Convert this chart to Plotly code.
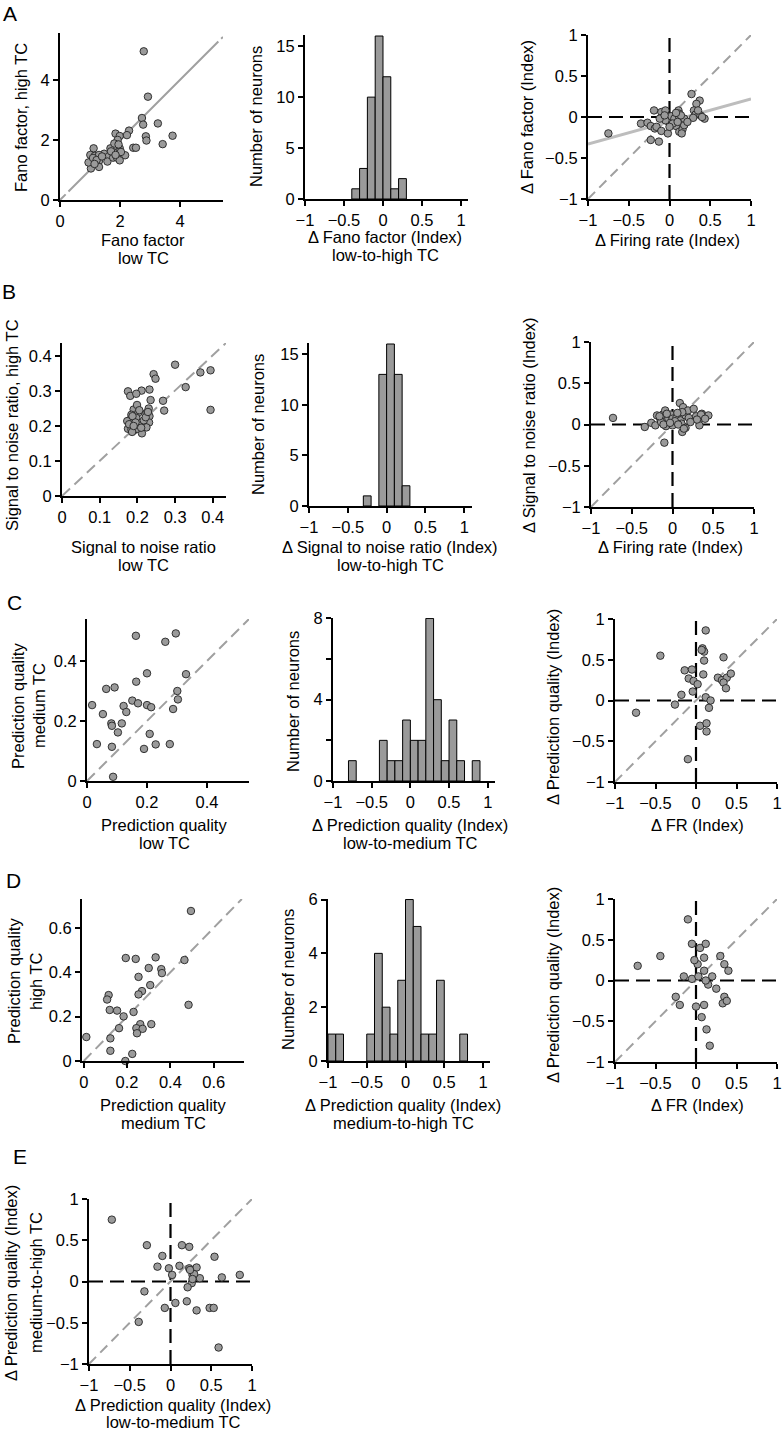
import plotly.graph_objects as go

W, H = 782, 1434
FONT = "Liberation Sans, Arial, sans-serif"

# ---------------- DATA ----------------
# A1: Fano factor low TC vs high TC
fano_low = [2.79, 2.93, 2.73, 2.77, 3.26, 2.30, 2.86, 2.88, 3.75, 3.42, 2.44, 2.53, 1.85, 1.99, 2.23,
            2.17, 1.92, 1.68, 1.81, 1.99, 1.94, 1.79, 1.47, 1.63, 1.58, 1.77, 1.90, 1.99, 2.03, 1.12,
            1.01, 1.16, 1.30, 1.30, 1.05, 1.03, 1.30, 0.95, 1.10, 1.22, 1.40, 1.70, 1.85, 1.95, 1.15]
fano_high = [4.95, 3.44, 2.73, 2.51, 2.55, 2.31, 2.12, 1.98, 2.14, 1.86, 1.74, 1.74, 2.21, 2.13, 2.16,
             1.49, 2.00, 1.72, 1.88, 1.72, 1.60, 1.58, 1.54, 1.46, 1.28, 1.41, 1.41, 1.32, 1.60, 1.72,
             1.50, 1.47, 1.50, 1.30, 1.28, 1.05, 1.10, 1.25, 1.40, 1.33, 1.45, 1.62, 1.50, 1.85, 1.20]
# A2: histogram of delta Fano factor index
fano_idx_bin_left = [-0.4, -0.3, -0.2, -0.1, 0.0, 0.1, 0.2]
fano_idx_counts = [1, 3, 10, 16, 12, 1, 2]
# A3: delta firing rate vs delta Fano
frA = [-0.75, -0.35, -0.27, -0.23, -0.19, -0.23, -0.13, -0.18, -0.16, -0.10, -0.09, -0.05, -0.10, -0.02, -0.01,
       0.02, 0.06, 0.11, 0.12, 0.12, 0.08, 0.12, 0.16, 0.18, 0.18, 0.27, 0.37, 0.33, 0.30, 0.32,
       0.29, 0.38, 0.43, 0.40, -0.05, 0.04, 0.10, -0.12, 0.14, 0.22, 0.08, -0.06, 0.00, 0.15, 0.35]
fano_idx = [-0.20, -0.08, -0.07, -0.11, 0.08, -0.28, -0.30, -0.14, -0.12, 0.06, -0.01, 0.08, -0.17, -0.20, -0.06,
            0.01, -0.02, 0.08, 0.04, 0.00, -0.11, -0.18, -0.15, -0.10, -0.02, 0.28, 0.20, 0.16, 0.08, 0.03,
            -0.01, 0.02, -0.02, 0.00, -0.04, -0.08, -0.06, -0.02, 0.02, -0.06, 0.05, 0.02, -0.12, -0.20, 0.08]
fano_fit_slope = 0.275
fano_fit_intercept = -0.055

# B1: SNR low vs high
snr_low = [0.300, 0.243, 0.248, 0.367, 0.394, 0.328, 0.394, 0.268, 0.271, 0.235, 0.232, 0.211, 0.175, 0.181, 0.197,
           0.190, 0.202, 0.224, 0.230, 0.232, 0.231, 0.215, 0.212, 0.197, 0.184, 0.180, 0.173, 0.175, 0.184, 0.193,
           0.190, 0.206, 0.199, 0.186, 0.217, 0.224, 0.199, 0.205, 0.187, 0.222, 0.178, 0.195, 0.210, 0.228, 0.190]
snr_high = [0.375, 0.348, 0.335, 0.353, 0.359, 0.311, 0.246, 0.272, 0.244, 0.274, 0.304, 0.301, 0.299, 0.286, 0.292,
            0.247, 0.237, 0.237, 0.250, 0.228, 0.210, 0.205, 0.179, 0.223, 0.232, 0.217, 0.214, 0.192, 0.190, 0.203,
            0.187, 0.201, 0.192, 0.183, 0.216, 0.196, 0.260, 0.245, 0.228, 0.225, 0.205, 0.210, 0.195, 0.240, 0.200]
# B2: histogram delta SNR index
snr_idx_bin_left = [-0.3, -0.1, 0.0, 0.1, 0.2]
snr_idx_counts = [1, 13, 16, 13, 2]
# B3: delta FR vs delta SNR
frB = [-0.73, -0.34, -0.26, -0.21, -0.19, -0.15, -0.12, -0.09, -0.14, -0.08, -0.10, -0.05, -0.02, 0.00, 0.00,
       0.05, 0.09, 0.13, 0.10, 0.11, 0.12, 0.16, 0.16, 0.19, 0.26, 0.29, 0.32, 0.33, 0.36, 0.39,
       0.44, -0.07, 0.03, 0.20, 0.12, -0.11, 0.07, 0.35, 0.30, -0.16, 0.14, 0.40, -0.03, 0.22, 0.06]
snr_idx = [0.08, -0.03, 0.02, -0.01, 0.11, 0.07, 0.12, 0.17, 0.03, -0.02, -0.22, 0.07, 0.12, 0.07, -0.01,
           0.09, 0.26, 0.21, 0.05, 0.01, -0.09, -0.04, 0.11, 0.17, 0.19, 0.10, 0.05, -0.01, 0.13, 0.09,
           0.11, 0.13, 0.04, 0.08, 0.15, 0.00, 0.00, 0.12, 0.06, 0.10, -0.05, 0.07, 0.02, 0.03, 0.14]

# C1: prediction quality low vs medium TC
pq_low = [0.163, 0.261, 0.296, 0.200, 0.330, 0.164, 0.064, 0.092, 0.151, 0.170, 0.200, 0.214, 0.122, 0.131, 0.017,
          0.053, 0.081, 0.083, 0.116, 0.103, 0.033, 0.083, 0.087, 0.209, 0.190, 0.229, 0.276, 0.301, 0.303, 0.287]
pq_med = [0.484, 0.464, 0.492, 0.359, 0.356, 0.331, 0.307, 0.312, 0.268, 0.259, 0.253, 0.246, 0.250, 0.230, 0.253,
          0.223, 0.192, 0.184, 0.192, 0.162, 0.123, 0.114, 0.014, 0.157, 0.107, 0.122, 0.123, 0.300, 0.272, 0.240]
# C2: histogram delta PQ low-to-medium
pq_lm_bin_left = [-0.8, -0.4, -0.3, -0.2, -0.1, 0.0, 0.1, 0.2, 0.3, 0.4, 0.5, 0.6, 0.8]
pq_lm_counts = [1, 2, 1, 1, 3, 2, 2, 8, 4, 1, 3, 1, 1]
# C3: delta FR vs delta PQ (low-to-medium)
frC = [0.12, 0.08, 0.10, 0.10, -0.44, 0.34, 0.09, -0.14, -0.05, -0.09, -0.03, 0.02, -0.04, -0.18, -0.26,
       -0.74, 0.27, 0.32, 0.38, 0.43, 0.34, 0.37, 0.12, 0.18, 0.16, 0.05, 0.13, 0.13, -0.10, 0.07]
pq_lm_idx = [0.86, 0.64, 0.60, 0.49, 0.55, 0.53, 0.32, 0.37, 0.38, 0.27, 0.24, 0.20, 0.11, 0.07, -0.05,
             -0.15, 0.28, 0.25, 0.28, 0.33, 0.22, 0.15, 0.04, 0.00, -0.09, -0.31, -0.28, -0.38, -0.72, 0.62]

# D1: prediction quality medium vs high TC
pq_med_d = [0.495, 0.465, 0.484, 0.194, 0.240, 0.332, 0.300, 0.358, 0.361, 0.253, 0.307, 0.269, 0.253, 0.115, 0.108,
            0.120, 0.154, 0.184, 0.230, 0.163, 0.123, 0.123, 0.012, 0.261, 0.312, 0.243, 0.272, 0.246, 0.224, 0.192]
pq_high = [0.676, 0.455, 0.253, 0.464, 0.460, 0.467, 0.419, 0.414, 0.396, 0.379, 0.342, 0.315, 0.300, 0.297, 0.277,
           0.230, 0.227, 0.201, 0.221, 0.148, 0.102, 0.046, 0.108, 0.166, 0.166, 0.148, 0.145, 0.125, 0.032, 0.000]
# D2: histogram delta PQ medium-to-high
pq_mh_bin_left = [-1.0, -0.9, -0.5, -0.4, -0.3, -0.2, -0.1, 0.0, 0.1, 0.2, 0.3, 0.4, 0.7]
pq_mh_counts = [1, 1, 1, 4, 2, 1, 3, 6, 5, 1, 1, 3, 1]
# D3: delta FR vs delta PQ (medium-to-high)
frD = [-0.72, -0.44, -0.10, -0.05, 0.05, 0.12, 0.10, -0.15, -0.05, 0.02, 0.10, 0.30, 0.35, 0.40, 0.20,
       0.15, 0.25, 0.35, 0.33, -0.25, -0.20, 0.00, 0.07, 0.13, 0.17, 0.10, 0.03, 0.38, 0.12, -0.02]
pq_mh_idx = [0.18, 0.30, 0.75, 0.45, 0.40, 0.45, 0.28, 0.05, 0.02, 0.20, 0.12, 0.30, 0.20, 0.12, 0.05,
             -0.05, -0.10, -0.20, -0.28, -0.20, -0.30, -0.32, -0.45, -0.60, -0.80, -0.30, 0.05, -0.25, 0.00, 0.25]

# E: delta PQ low-to-medium vs medium-to-high
e_lm = [-0.72, -0.29, 0.14, 0.23, -0.10, 0.54, -0.16, -0.02, 0.11, 0.23, 0.32, 0.02, 0.27, 0.36, 0.63,
        0.85, 0.26, 0.21, -0.32, 0.06, 0.20, -0.07, 0.32, 0.48, 0.53, -0.39, 0.59, 0.29, 0.27, 0.24]
e_mh = [0.75, 0.44, 0.44, 0.42, 0.31, 0.30, 0.18, 0.16, 0.19, 0.16, 0.17, 0.08, 0.08, 0.04, 0.05,
        0.08, -0.02, -0.07, -0.12, -0.26, -0.24, -0.32, -0.35, -0.32, -0.32, -0.49, -0.80, 0.09, 0.03, 0.14]

# ---------------- LAYOUT HELPERS ----------------
PT_FILL = "#9a9a9a"
BAR_FILL = "#9a9a9a"
DIAG = "#a0a0a0"
TICK_SIZE = 16.5
TITLE_SIZE = 16.5

fig = go.Figure()
layout = dict(width=W, height=H, margin=dict(l=0, r=0, t=0, b=0, autoexpand=False),
              paper_bgcolor="white", plot_bgcolor="white", showlegend=False,
              font=dict(family=FONT, color="black", size=TITLE_SIZE))
shapes = []
annotations = []


def ax_common():
    return dict(showline=True, linecolor="black", linewidth=2, ticks="outside", ticklen=5,
                tickwidth=2, tickcolor="black", showgrid=False, zeroline=False, automargin=False,
                tickfont=dict(family=FONT, size=TICK_SIZE, color="black"), fixedrange=True)


def fmt(v):
    s = ("%g" % v)
    return s.replace("-", "\u2212")


def add_axes(n, box, xr, yr, xt, yt, ytext=None):
    l, t, r, b = box
    xa = ax_common()
    xa.update(domain=[l / W, r / W], range=xr, tickvals=xt, ticktext=[fmt(v) for v in xt],
              anchor="y" if n == 1 else "y%d" % n)
    ya = ax_common()
    ya.update(domain=[1 - b / H, 1 - t / H], range=yr, tickvals=yt,
              ticktext=ytext if ytext is not None else [fmt(v) for v in yt],
              anchor="x" if n == 1 else "x%d" % n)
    layout["xaxis" if n == 1 else "xaxis%d" % n] = xa
    layout["yaxis" if n == 1 else "yaxis%d" % n] = ya


def refs(n):
    return ("x" if n == 1 else "x%d" % n), ("y" if n == 1 else "y%d" % n)


def scatter(n, xs, ys):
    xr, yr = refs(n)
    fig.add_trace(go.Scatter(x=xs, y=ys, mode="markers", xaxis=xr, yaxis=yr, cliponaxis=False,
                             marker=dict(size=7.5, color=PT_FILL, line=dict(color="#222222", width=0.9)),
                             hoverinfo="skip"))


def hist(n, lefts, counts, width=0.1):
    xr, yr = refs(n)
    fig.add_trace(go.Bar(x=[v + width / 2 for v in lefts], y=counts, width=width, xaxis=xr, yaxis=yr,
                         marker=dict(color=BAR_FILL, line=dict(color="black", width=1)), hoverinfo="skip"))


def line(n, x0, y0, x1, y1, color, width, dash):
    xr, yr = refs(n)
    shapes.append(dict(type="line", xref=xr, yref=yr, x0=x0, y0=y0, x1=x1, y1=y1, layer="below",
                       line=dict(color=color, width=width, dash=dash)))


def text(x, y, s, size=TITLE_SIZE, angle=0):
    annotations.append(dict(x=x / W, y=1 - y / H, xref="paper", yref="paper", text=s, showarrow=False,
                            xanchor="center", yanchor="middle", textangle=angle,
                            font=dict(family=FONT, size=size, color="black")))


def cross(n):
    line(n, -1, 0, 1, 0, "black", 2.2, "14px,7px")
    line(n, 0, -1, 0, 1, "black", 2.2, "14px,7px")
    line(n, -1, -1, 1, 1, DIAG, 2, "10px,6px")


idx_ticks = [-1, -0.5, 0, 0.5, 1]

# ---- Row A ----
A1r = [0, 5.43]
A1ry = [0, 5.56]
add_axes(1, (60, 33, 223, 200), A1r, A1ry, [0, 2, 4], [0, 2, 4])
line(1, 0, 0, A1r[1], A1r[1], DIAG, 2, "8px,4px,212px,4px")
scatter(1, fano_low, fano_high)

add_axes(2, (305, 35, 468, 199), [-1, 1.09], [0, 16.1], idx_ticks, [0, 5, 10, 15])
hist(2, fano_idx_bin_left, fano_idx_counts)

add_axes(3, (588, 35, 751, 199), [-1, 1], [-1, 1], idx_ticks, idx_ticks)
cross(3)
line(3, -1, fano_fit_intercept - fano_fit_slope, 1, fano_fit_intercept + fano_fit_slope, "#bdbdbd", 3, "solid")
scatter(3, frA, fano_idx)

# ---- Row B ----
B1r = [0, 0.435]
add_axes(4, (62, 343, 226, 496), B1r, [0, 0.437], [0, 0.1, 0.2, 0.3, 0.4], [0, 0.1, 0.2, 0.3, 0.4])
line(4, 0, 0, 0.435, 0.437, DIAG, 2, "11px,6px")
scatter(4, snr_low, snr_high)

add_axes(5, (309, 343, 472, 506), [-1, 1.1], [0, 16.1], idx_ticks, [0, 5, 10, 15])
hist(5, snr_idx_bin_left, snr_idx_counts)

add_axes(6, (591, 342, 754, 507), [-1, 1], [-1, 1], idx_ticks, idx_ticks)
cross(6)
scatter(6, frB, snr_idx)

# ---- Row C ----
add_axes(7, (87, 619, 249, 781), [0, 0.54], [0, 0.54], [0, 0.2, 0.4], [0, 0.2, 0.4])
line(7, 0, 0, 0.54, 0.54, DIAG, 2, "11px,6px")
scatter(7, pq_low, pq_med)

add_axes(8, (333, 618, 495, 781), [-1, 1.094], [0, 8.02], idx_ticks, [0, 2, 4, 6, 8],
         ytext=["0", "", "4", "", "8"])
hist(8, pq_lm_bin_left, pq_lm_counts)

add_axes(9, (615, 619, 777, 782), [-1, 1], [-1, 1], idx_ticks, idx_ticks)
cross(9)
scatter(9, frC, pq_lm_idx)

# ---- Row D ----
add_axes(10, (82, 899, 244, 1061), [-0.008, 0.74], [0, 0.73], [0, 0.2, 0.4, 0.6], [0, 0.2, 0.4, 0.6])
line(10, 0, 0, 0.73, 0.73, DIAG, 2, "11px,6px")
scatter(10, pq_med_d, pq_high)

add_axes(11, (328, 899, 490, 1061), [-1, 1.09], [0, 6.02], idx_ticks, [0, 2, 4, 6])
hist(11, pq_mh_bin_left, pq_mh_counts)

add_axes(12, (615, 899, 777, 1062), [-1, 1], [-1, 1], idx_ticks, idx_ticks)
cross(12)
scatter(12, frD, pq_mh_idx)

# ---- Row E ----
add_axes(13, (89, 1199, 252, 1364), [-1, 1], [-1, 1], idx_ticks, idx_ticks)
cross(13)
scatter(13, e_lm, e_mh)

# ---------------- TEXT ----------------
# panel letters
text(10, 14, "A", 21)
text(9, 291, "B", 21)
text(14, 603, "C", 21)
text(13, 880, "D", 21)
text(20, 1156, "E", 21)

# A
text(21, 118, "Fano factor, high TC", angle=-90)
text(143, 240, "Fano factor")
text(143, 258, "low TC")
text(256, 117, "Number of neurons", angle=-90)
text(385, 237, "\u0394 Fano factor (Index)")
text(385, 255, "low-to-high TC")
text(527, 117, "\u0394 Fano factor (Index)", angle=-90)
text(667, 240, "\u0394 Firing rate (Index)")

# B
text(12, 425, "Signal to noise ratio, high TC", angle=-90)
text(143, 547, "Signal to noise ratio")
text(143, 565, "low TC")
text(258, 425, "Number of neurons", angle=-90)
text(390, 547, "\u0394 Signal to noise ratio (Index)")
text(390, 565, "low-to-high TC")
text(529, 425, "\u0394 Signal to noise ratio (Index)", angle=-90)
text(670, 547, "\u0394 Firing rate (Index)")

# C
text(18, 706, "Prediction quality", angle=-90)
text(39, 706, "medium TC", angle=-90)
text(164, 825, "Prediction quality")
text(164, 843, "low TC")
text(293, 702, "Number of neurons", angle=-90)
text(410, 825, "\u0394 Prediction quality (Index)")
text(410, 843, "low-to-medium TC")
text(553, 707, "\u0394 Prediction quality (Index)", angle=-90)
text(697, 825, "\u0394 FR (Index)")

# D
text(14, 981, "Prediction quality", angle=-90)
text(36, 981, "high TC", angle=-90)
text(163, 1105, "Prediction quality")
text(163, 1123, "medium TC")
text(288, 980, "Number of neurons", angle=-90)
text(403, 1105, "\u0394 Prediction quality (Index)")
text(403, 1123, "medium-to-high TC")
text(553, 985, "\u0394 Prediction quality (Index)", angle=-90)
text(697, 1105, "\u0394 FR (Index)")

# E
text(11, 1283, "\u0394 Prediction quality (Index)", angle=-90)
text(36, 1283, "medium-to-high TC", angle=-90)
text(173, 1405, "\u0394 Prediction quality (Index)")
text(173, 1422, "low-to-medium TC")

layout["shapes"] = shapes
layout["annotations"] = annotations
fig.update_layout(**layout)
fig.write_html("out.html", config={"displayModeBar": False, "staticPlot": True}, post_script=(
    "document.body.style.margin='0px';document.body.style.padding='0px';"
    "document.documentElement.style.overflow='hidden';"))
